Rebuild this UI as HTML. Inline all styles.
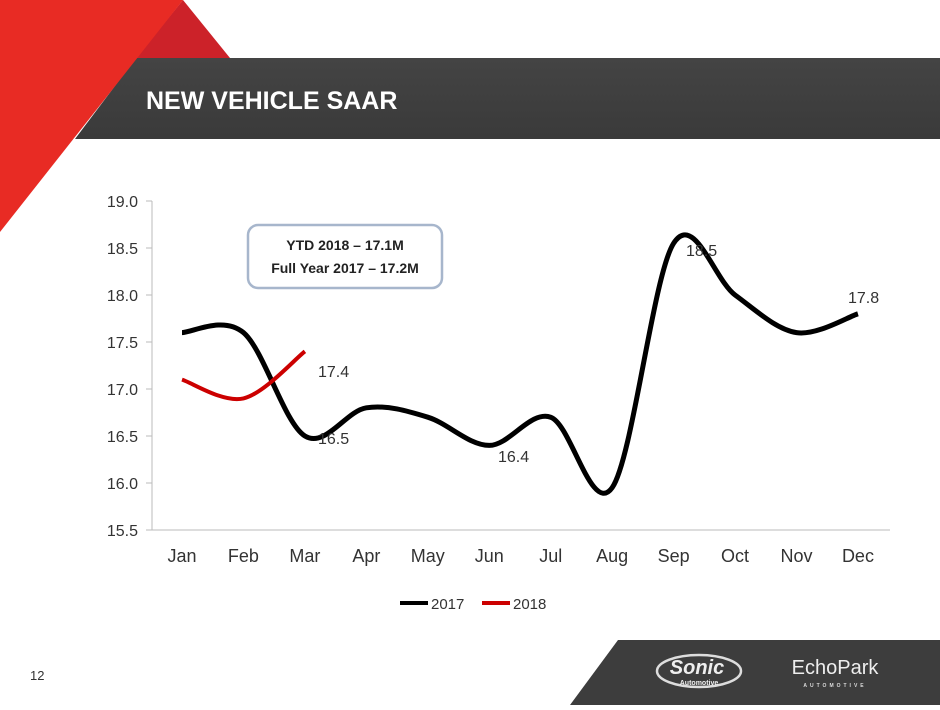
<!DOCTYPE html>
<html><head><meta charset="utf-8"><style>
body{margin:0;width:940px;height:705px;overflow:hidden;background:#fff;font-family:"Liberation Sans",sans-serif}
</style></head><body>
<svg id="s" width="940" height="705" viewBox="0 0 940 705" xmlns="http://www.w3.org/2000/svg" font-family="Liberation Sans, sans-serif">
<defs><linearGradient id="g" x1="0" y1="0" x2="0" y2="1"><stop offset="0" stop-color="#444"/><stop offset="1" stop-color="#3a3a3a"/></linearGradient></defs>
<polygon points="75,139 136,58 940,58 940,139" fill="url(#g)"/>
<polygon points="183,0 230,58 136,58" fill="#cc2229"/>
<polygon points="0,0 183,0 0,232" fill="#e82b24"/>
<text x="146" y="109" font-size="25" font-weight="bold" fill="#fff">NEW VEHICLE SAAR</text>
<polygon points="618,640 940,640 940,705 570,705" fill="#3d3d3d"/>
<ellipse cx="699" cy="671" rx="42" ry="16" fill="none" stroke="#ddd" stroke-width="2.5"/>
<text x="697" y="674" font-size="20" font-weight="bold" font-style="italic" fill="#eee" text-anchor="middle">Sonic</text>
<text x="699" y="685" font-size="7" font-weight="bold" fill="#eee" text-anchor="middle">Automotive</text>
<text x="835" y="674" font-size="20" fill="#eee" text-anchor="middle">EchoPark</text>
<text x="835" y="687" font-size="5" font-weight="bold" fill="#ddd" text-anchor="middle" letter-spacing="3">AUTOMOTIVE</text>
<text x="30" y="680" font-size="13" fill="#333">12</text>
<g stroke="#bbb" stroke-width="1">
<line x1="152" y1="201" x2="152" y2="530"/>
<line x1="152" y1="530" x2="890" y2="530"/>
</g>
<g id="ticks"></g>
<rect x="248" y="225" width="194" height="63" rx="10" fill="#fff" stroke="#a7b6cc" stroke-width="2.5"/>
<text x="345" y="250" font-size="14" font-weight="bold" text-anchor="middle" fill="#222">YTD 2018 – 17.1M</text>
<text x="345" y="273" font-size="14" font-weight="bold" text-anchor="middle" fill="#222">Full Year 2017 – 17.2M</text>
<path id="p17" fill="none" stroke="#000" stroke-width="5"/>
<path id="p18" fill="none" stroke="#c00" stroke-width="4"/>
<g font-size="16" fill="#333">
<text x="318" y="444">16.5</text>
<text x="318" y="377">17.4</text>
<text x="498" y="462">16.4</text>
<text x="686" y="256">18.5</text>
<text x="848" y="303">17.8</text>
</g>
<line x1="400" y1="603" x2="428" y2="603" stroke="#000" stroke-width="4"/>
<text x="431" y="609" font-size="15" fill="#333">2017</text>
<line x1="482" y1="603" x2="510" y2="603" stroke="#c00" stroke-width="4"/>
<text x="513" y="609" font-size="15" fill="#333">2018</text>
</svg>
<script>
const ns="http://www.w3.org/2000/svg",s=document.getElementById('s'),tk=document.getElementById('ticks');
const X=i=>182+i*61.45,Y=v=>201+(19-v)*94;
function t(x,y,str,a,sz){const e=document.createElementNS(ns,'text');e.setAttribute('x',x);e.setAttribute('y',y);e.setAttribute('font-size',sz);e.setAttribute('fill','#333');e.setAttribute('text-anchor',a);e.textContent=str;tk.appendChild(e);}
for(let v=15.5;v<=19.01;v+=0.5){t(138,Y(v)+6,v.toFixed(1),'end',16);const l=document.createElementNS(ns,'line');l.setAttribute('x1',146);l.setAttribute('x2',152);l.setAttribute('y1',Y(v));l.setAttribute('y2',Y(v));l.setAttribute('stroke','#bbb');tk.appendChild(l);}
['Jan','Feb','Mar','Apr','May','Jun','Jul','Aug','Sep','Oct','Nov','Dec'].forEach((m,i)=>t(X(i),562,m,'middle',18));
function path(d){const p=d.map((v,i)=>[X(i),Y(v)]);let s='M'+p[0];for(let i=0;i<p.length-1;i++){const a=p[i-1]||p[i],b=p[i],c=p[i+1],e=p[i+2]||c,k=1/6;s+=` C${b[0]+(c[0]-a[0])*k},${b[1]+(c[1]-a[1])*k} ${c[0]-(e[0]-b[0])*k},${c[1]-(e[1]-b[1])*k} ${c[0]},${c[1]}`;}return s;}
document.getElementById('p17').setAttribute('d',path([17.6,17.6,16.5,16.8,16.7,16.4,16.7,15.95,18.55,18.0,17.6,17.8]));
document.getElementById('p18').setAttribute('d',path([17.1,16.9,17.4]));
</script>
</body></html>
